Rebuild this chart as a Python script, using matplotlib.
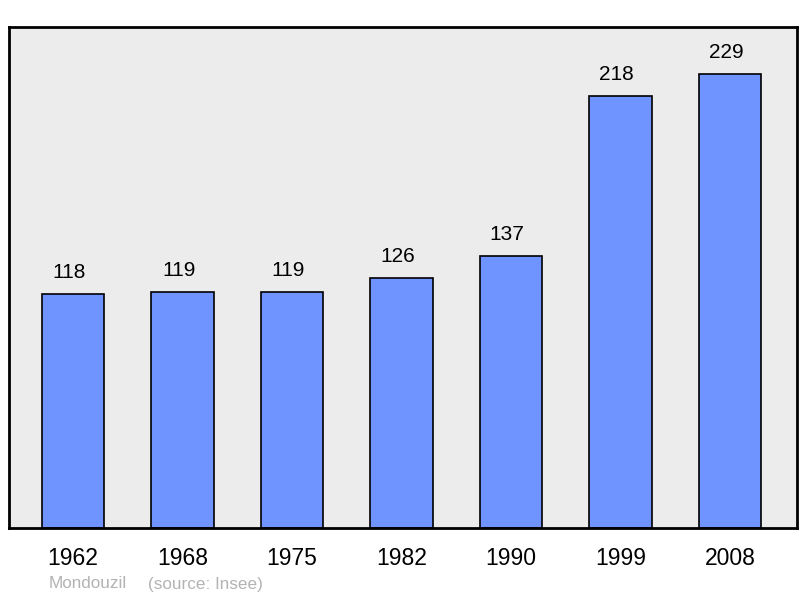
import matplotlib
matplotlib.use('Agg')
import matplotlib.pyplot as plt

years = ['1962', '1968', '1975', '1982', '1990', '1999', '2008']
population = [118, 119, 119, 126, 137, 218, 229]
town = 'Mondouzil'
source = '(source: Insee)'

plt.rcParams['font.family'] = ['Liberation Sans', 'DejaVu Sans']

fig = plt.figure(figsize=(8, 5.98), dpi=100)
ax = fig.add_axes([9 / 800, 70 / 598, 788 / 800, 501 / 598])
ax.set_facecolor('#ececec')

x = range(len(years))
ax.bar(x, population, width=0.57, color='#7094ff', edgecolor='black', linewidth=1.2, zorder=2)
# valeurs au-dessus des barres
for i, v in enumerate(population):
    ax.annotate(str(v), (i, v), xytext=(-4, 16), textcoords='offset pixels',
                ha='center', va='baseline', fontsize=15)

ax.set_xlim(-0.585, 6.61)
ax.set_ylim(0, 252.6)
ax.set_xticks(list(x))
ax.set_xticklabels(years, fontsize=16.5)
ax.tick_params(axis='x', length=0, pad=14)
ax.set_yticks([])
for s in ax.spines.values():
    s.set_linewidth(2)

fig.text(49 / 800, 1 - 584 / 598, town, color='#b3b3b3',
         fontsize=12.3, va='center', ha='left')
fig.text(148 / 800, 1 - 584 / 598, source, color='#b3b3b3',
         fontsize=12.3, va='center', ha='left')

fig.savefig('out.png', dpi=100)
